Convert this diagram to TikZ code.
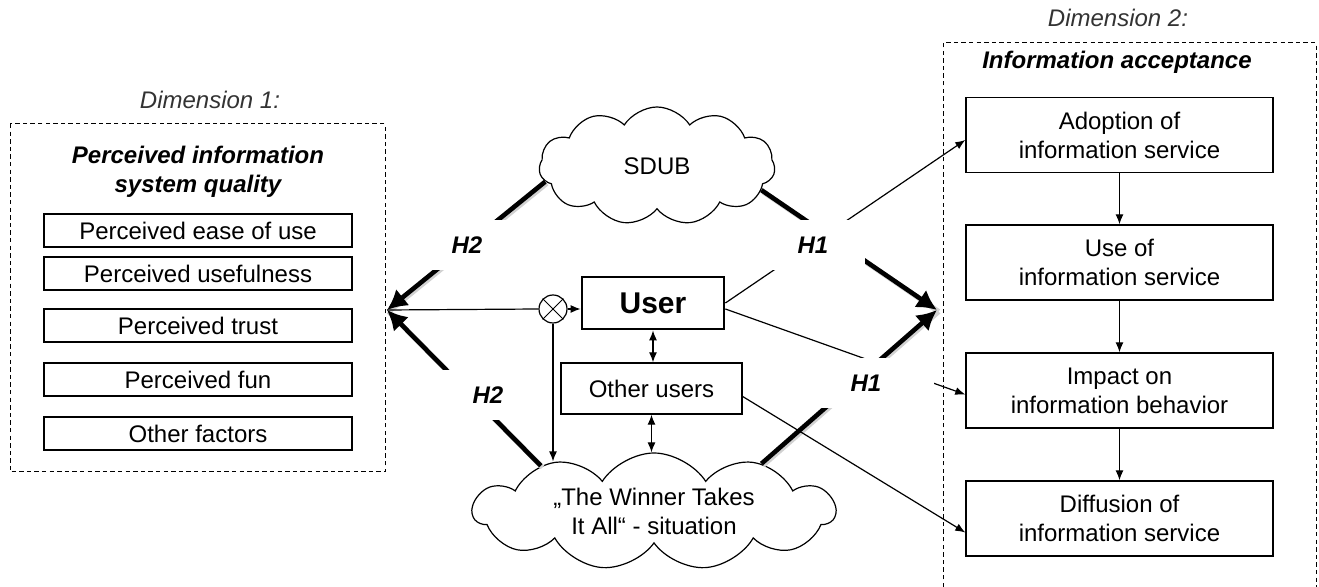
\documentclass[tikz,border=0pt]{standalone}
\usepackage{fontspec}
\setmainfont{Liberation Sans}
\usetikzlibrary{shapes.symbols,arrows.meta}

\begin{document}
\begin{tikzpicture}[x=0.5pt,y=-0.5pt,
  txt/.style={font=\fontsize{12}{14.5}\selectfont},
  dimlabel/.style={txt,font=\fontsize{12}{14.5}\selectfont\itshape,text=black!80},
  heading/.style={txt,font=\fontsize{12}{14.5}\selectfont\bfseries\itshape,align=center},
  frame/.style={line width=0.5pt,dash pattern=on 2.2pt off 1.6pt},
  factor/.style={txt,draw,line width=0.7pt,minimum width=154pt,minimum height=16.5pt,inner sep=0pt},
  stage/.style={txt,draw,line width=0.7pt,minimum width=153.5pt,minimum height=37.5pt,inner sep=0pt,align=center},
  userbox/.style={draw,line width=1.4pt,minimum width=71pt,minimum height=26pt,inner sep=0pt,font=\fontsize{15}{18}\selectfont\bfseries},
  othersbox/.style={txt,draw,line width=0.7pt,minimum width=90.5pt,minimum height=25.5pt,inner sep=0pt},
  cloudnode/.style={txt,cloud,draw,line width=0.6pt,cloud puffs=11,cloud puff arc=115,cloud ignores aspect,align=center,inner sep=0pt},
  mixer/.style={circle,draw,line width=0.6pt,minimum size=14pt,inner sep=0pt},
  link/.style={line width=0.6pt,arrows={-Latex[length=5pt,width=4pt]}},
  bothways/.style={line width=0.6pt,arrows={Latex[length=5pt,width=4pt]-Latex[length=5pt,width=4pt]}},
  hyparrow/.style={line width=2.3pt,arrows={-Latex[length=10pt,width=10.5pt]}},
  hypshadow/.style={line width=2.6pt,black!18,transform canvas={xshift=0.8pt,yshift=-0.8pt}},
  hyp/.style={font=\fontsize{12}{14.5}\selectfont\bfseries\itshape,fill=white,minimum width=52pt,minimum height=25pt,inner sep=0pt}
]
\useasboundingbox (0,0) rectangle (1319,587);

% dimension 1: perceived quality
\node[dimlabel] (dim1) at (210,100) {Dimension 1:};
\draw[frame] (10,124) rectangle (385,472);
\node[heading] (quality) at (198,172) {Perceived information\\system quality};
\node[factor] (ease) at (198,230.5) {Perceived ease of use};
\node[factor] (useful) at (198,273.5) {Perceived usefulness};
\node[factor] (trust) at (198,325.5) {Perceived trust};
\node[factor] (fun) at (198,379.5) {Perceived fun};
\node[factor] (otherf) at (198,433.5) {Other factors};

% dimension 2: acceptance (frame runs off the page)
\node[dimlabel] (dim2) at (1118,18) {Dimension 2:};
\draw[frame] (943,587) -- (943,43) -- (1316,43) -- (1316,587);
\node[heading] (accept) at (1117,62) {Information acceptance};
\node[stage] (adopt) at (1119.5,135) {Adoption of\\information service};
\node[stage] (use) at (1119.5,262.5) {Use of\\information service};
\node[stage] (impact) at (1119.5,390.5) {Impact on\\information behavior};
\node[stage] (diff) at (1119.5,518.5) {Diffusion of\\information service};
\draw[link] (adopt) -- (use);
\draw[link] (use) -- (impact);
\draw[link] (impact) -- (diff);

% middle part
\node[cloudnode,minimum width=118pt,minimum height=59pt] (sdub) at (657,166) {SDUB};
\node[cloudnode,minimum width=181pt,minimum height=58.5pt] (win) at (654,511.5) {„The Winner Takes\\It All“ - situation};
\node[userbox] (user) at (653,303) {User};
\node[othersbox] (others) at (651.5,388.5) {Other users};
\node[mixer] (mix) at (553,309) {};
\draw[line width=0.5pt] (mix.45) -- (mix.225) (mix.135) -- (mix.315);

\coordinate (ltip) at (387,310);
\coordinate (rtip) at (937,310);

% H1 / H2 arrows with shadow
\draw[hypshadow] (sdub.188) -- (ltip) (win.158) -- (ltip);
\draw[hypshadow] (sdub.347) -- (rtip) (win.24) -- (rtip);
\draw[hyparrow] (sdub.188) -- (ltip);
\draw[hyparrow] (win.158) -- (ltip);
\draw[hyparrow] (sdub.347) -- (rtip);
\draw[hyparrow] (win.24) -- (rtip);

\draw[line width=0.6pt] (ltip) -- (mix.west);
\draw[link] (mix.east) -- (user.west |- mix);
\draw[link] (mix.south) -- (mix |- win.152);
\draw[bothways] (user.south) -- (user.south |- others.north);
\draw[bothways] (others.south) -- (others.south |- win.north);
\draw[link] (user.east) -- ([yshift=-2.5pt]adopt.west);
\draw[link] ([yshift=-3pt]user.east) -- ([yshift=-2pt]impact.west);
\draw[link] ([yshift=-4pt]others.east) -- ([yshift=-7pt]diff.west);

% hypothesis labels
\node[hyp] (h2a) at (467,245) {H2};
\node[hyp] (h2b) at (488,395) {H2};
\node[hyp] (h1a) at (813,245) {H1};
\node[hyp,minimum width=68pt] (h1b) at (866,383) {H1};
\end{tikzpicture}
\end{document}
